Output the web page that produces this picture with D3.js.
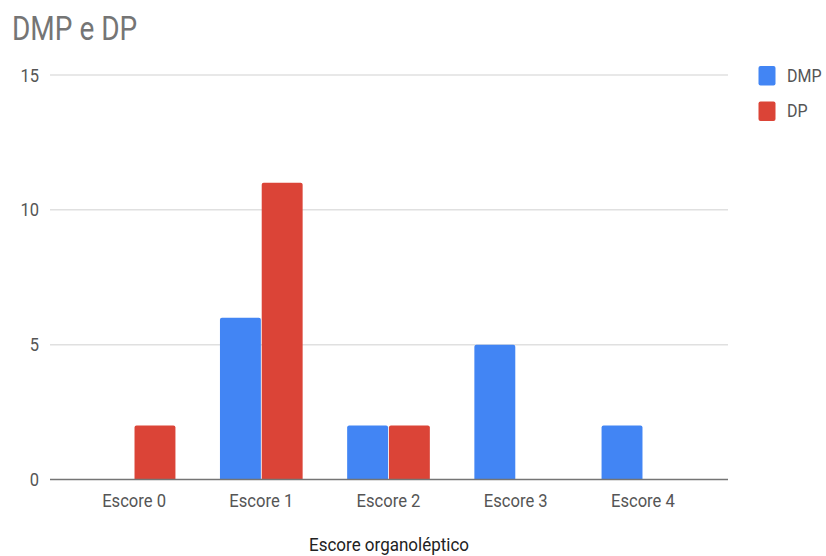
<!DOCTYPE html>
<html>
<head>
<meta charset="utf-8">
<script src="https://cdn.jsdelivr.net/npm/d3@7"></script>
<style>
  html, body { margin: 0; padding: 0; background: #fff; }
  svg { display: block; font-family: Roboto, "Noto Sans", sans-serif; }
</style>
</head>
<body>
<svg id="chart" width="826" height="556"></svg>
<script>
// Organoleptic score counts per group
const categories = ["Escore 0", "Escore 1", "Escore 2", "Escore 3", "Escore 4"];
const seriesNames = ["DMP", "DP"];
const dmpValues = [0, 6, 2, 5, 2];
const dpValues = [2, 11, 2, 0, 0];
const yTicks = [0, 5, 10, 15];
const colors = ["#4285F4", "#DB4437"];

const series = [dmpValues, dpValues];
const svg = d3.select("#chart");

const plot = { left: 50, right: 728, x0: 70.5, x1: 706.5, top: 75, bottom: 479.5 };

const x = d3.scaleBand().domain(categories).range([plot.x0, plot.x1])
  .paddingInner(0.35).paddingOuter(0.175);
const xs = d3.scaleBand().domain(seriesNames).range([0, x.bandwidth()]).paddingInner(0.02);
const y = d3.scaleLinear().domain([0, 15]).range([plot.bottom, plot.top]);

// Text with a slightly tall glyph shape, anchored at its baseline
function label(parent, px, py, str, size, fill, anchor, sy) {
  return parent.append("text")
    .attr("transform", `translate(${px},${py}) scale(1,${sy || 1.14})`)
    .attr("text-anchor", anchor || "start")
    .attr("font-size", size).attr("fill", fill)
    .text(str);
}

// Title
label(svg, 12, 40, "DMP e DP", 28, "#757575", "start", 1.2);

// Gridlines and y labels
const grid = svg.append("g");
yTicks.forEach(t => {
  if (t !== 0) {
    grid.append("line").attr("x1", plot.left).attr("x2", plot.right)
      .attr("y1", y(t)).attr("y2", y(t))
      .attr("stroke", "#e0e0e0").attr("stroke-width", 1.5);
  }
  label(grid, 39, y(t) + 6.5, t, 16.5, "#555", "end", 1.14);
});

// Bars
const bars = svg.append("g");
categories.forEach((c, i) => {
  series.forEach((vals, s) => {
    const v = vals[i];
    if (v <= 0) return;
    const bx = x(c) + xs(seriesNames[s]);
    const by = y(v);
    const bw = xs.bandwidth();
    const bh = y(0) - by;
    const r = 2;
    bars.append("path")
      .attr("d", `M${bx},${by + bh} V${by + r} Q${bx},${by} ${bx + r},${by} H${bx + bw - r} Q${bx + bw},${by} ${bx + bw},${by + r} V${by + bh} Z`)
      .attr("fill", colors[s]);
  });
});

// Baseline
svg.append("line").attr("x1", plot.left).attr("x2", plot.right)
  .attr("y1", y(0)).attr("y2", y(0))
  .attr("stroke", "#757575").attr("stroke-width", 1.5);

// X labels
const xAxis = svg.append("g");
categories.forEach(c => {
  label(xAxis, x(c) + x.bandwidth() / 2, 506.5, c, 16.6, "#555", "middle", 1.16);
});

// X axis title
label(svg, 389, 550.5, "Escore organoléptico", 17, "#222", "middle", 1.05);

// Legend
const legend = svg.append("g");
seriesNames.forEach((n, i) => {
  const ly = 66 + i * 35.5;
  legend.append("rect").attr("x", 758.5).attr("y", ly).attr("width", 17).attr("height", 19.5)
    .attr("rx", 2).attr("fill", colors[i]);
  label(legend, 787, ly + 15.8, n, 16, "#555", "start", 1.1);
});
</script>
</body>
</html>
